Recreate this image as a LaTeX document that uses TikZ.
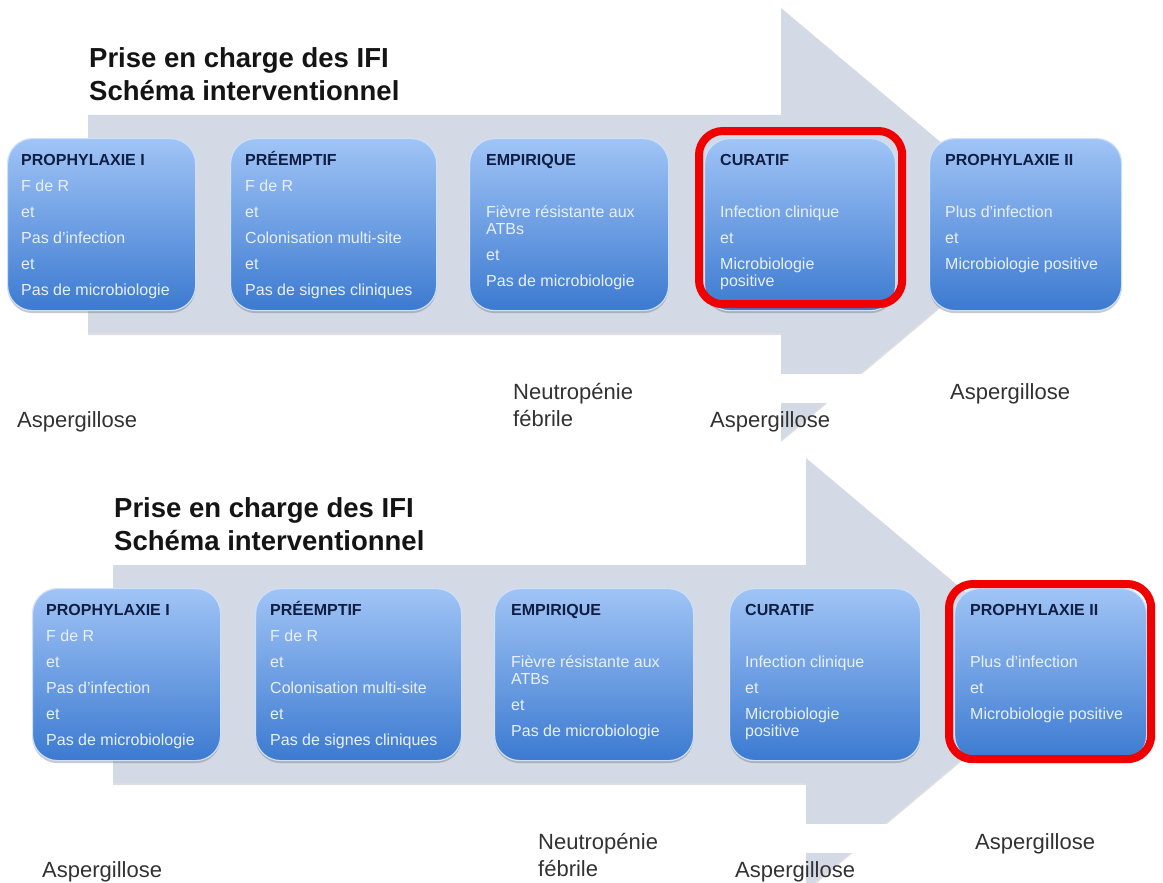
\documentclass[tikz,border=0pt]{standalone}
\usepackage{fontspec}
\setmainfont{Liberation Sans}
\usetikzlibrary{shadows,calc}
\definecolor{shaftgrey}{RGB}{211,217,229}
\definecolor{boxtop}{RGB}{160,196,246}
\definecolor{boxbot}{RGB}{60,122,208}
\definecolor{boxedge}{RGB}{205,224,250}
\definecolor{navy}{RGB}{16,30,66}
\definecolor{bodytxt}{RGB}{232,240,252}
\definecolor{lbl}{RGB}{50,50,50}
\definecolor{ttl}{RGB}{20,20,20}
\definecolor{hl}{RGB}{240,0,0}
\newcommand\stagehead[1]{{\color{navy}\bfseries #1}}
\tikzset{
  arrowbody/.style={fill=shaftgrey, drop shadow={shadow xshift=0pt, shadow yshift=-2pt, opacity=0.25, fill=black!50}},
  stage/.style={draw=boxedge, line width=1.2pt, rounded corners=25pt, top color=boxtop, bottom color=boxbot,
    minimum height=172pt, inner sep=0pt, anchor=north west,
    drop shadow={shadow xshift=0pt, shadow yshift=-2.5pt, opacity=0.35, fill=black!60}},
  stagetxt/.style={anchor=north west, inner sep=0pt, align=left, text=bodytxt, font=\fontsize{16}{26}\selectfont},
  lbltxt/.style={anchor=base west, inner sep=0pt, text=lbl, font=\fontsize{22}{27}\selectfont},
  ttltxt/.style={anchor=base west, inner sep=0pt, text=ttl, font=\fontsize{27.5}{33}\selectfont\bfseries},
  redframe/.style={draw=hl, line width=8pt, rounded corners=24pt},
}
\newcommand\stagepanel[3]{%
\begin{scope}[shift={(#2,#3)}]
  \path[arrowbody] (88,115) -- (781,115) -- (781,8) -- (1038,224) -- (781,440) -- (781,333) -- (88,333) -- cycle;
  \node[ttltxt] (#1ttlA) at (89,67) {Prise en charge des IFI};
  \node[ttltxt] (#1ttlB) at (89,100) {Schéma interventionnel};
  \node[stage, minimum width=188pt] (#1b1) at (7,138) {};
  \node[stage, minimum width=206pt] (#1b2) at (230,138) {};
  \node[stage, minimum width=199pt] (#1b3) at (469,138) {};
  \node[stage, minimum width=191pt] (#1b4) at (704,138) {};
  \node[stage, minimum width=192pt] (#1b5) at (929,138) {};
  \node[stagetxt] (#1t1) at ($(#1b1.north west)+(14,9.5)$)
    {\strut\stagehead{PROPHYLAXIE I}\\F de R\\et\\Pas d'infection\\et\\Pas de microbiologie};
  \node[stagetxt] (#1t2) at ($(#1b2.north west)+(15,9.5)$)
    {\strut\stagehead{PRÉEMPTIF}\\F de R\\et\\Colonisation multi-site\\et\\Pas de signes cliniques};
  \node[stagetxt] (#1t3) at ($(#1b3.north west)+(17,9.5)$)
    {\strut\stagehead{EMPIRIQUE}\\[26pt]Fièvre résistante aux\\[-9pt]ATBs\\et\\Pas de microbiologie};
  \node[stagetxt] (#1t4) at ($(#1b4.north west)+(16,9.5)$)
    {\strut\stagehead{CURATIF}\\[26pt]Infection clinique\\et\\Microbiologie\\[-9pt]positive};
  \node[stagetxt] (#1t5) at ($(#1b5.north west)+(16,9.5)$)
    {\strut\stagehead{PROPHYLAXIE II}\\[26pt]Plus d'infection\\et\\Microbiologie positive};
  \fill[white] (695,374) rectangle (1110,403);
  \node[lbltxt] (#1la) at (17,427) {Aspergillose};
  \node[lbltxt] (#1lb) at (513,399) {Neutropénie};
  \node[lbltxt] (#1lc) at (513,426) {fébrile};
  \node[lbltxt] (#1ld) at (710,427) {Aspergillose};
  \node[lbltxt] (#1le) at (950,399) {Aspergillose};
\end{scope}}
\begin{document}
\begin{tikzpicture}[x=1pt,y=-1pt]
  \useasboundingbox (0,0) rectangle (1163,883);
  \clip (0,0) rectangle (1163,883);
  \fill[white] (0,0) rectangle (1163,883);
  \stagepanel{A}{0}{0}
  \stagepanel{B}{25}{450}
  \draw[redframe] ($(Ab4.north west)+(-5,-7)$) rectangle ($(Ab4.south east)+(6,-7)$);
  \draw[redframe] ($(Bb5.north west)+(-5,-4)$) rectangle ($(Bb5.south east)+(4,-2)$);
\end{tikzpicture}
\end{document}
